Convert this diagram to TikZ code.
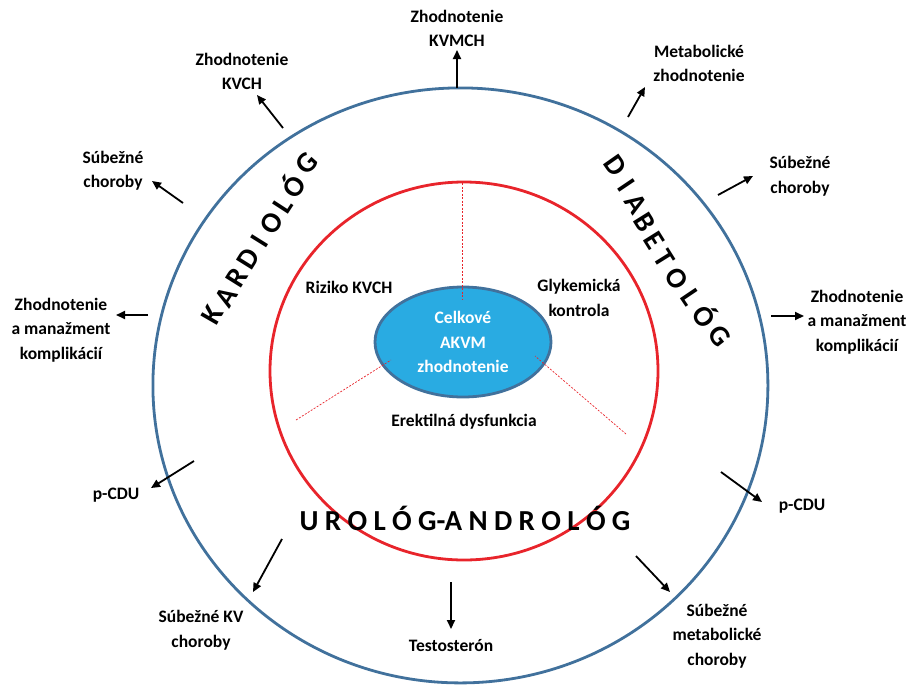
\documentclass[tikz,border=0pt]{standalone}
\usepackage{fontspec}
\setmainfont{Carlito}
\usetikzlibrary{arrows.meta,shapes.geometric,positioning}

\definecolor{ringblue}{HTML}{41719C}
\definecolor{ringred}{HTML}{E8242B}
\definecolor{akvmfill}{HTML}{29ABE2}

\newcommand{\lsp}{\hspace{0.22em}}

\tikzset{
  lbl/.style={font=\fontsize{17.5}{24.5}\selectfont\bfseries, align=center, inner sep=0pt},
  arr/.style={line width=1.8pt, -{Triangle[length=9pt,width=8pt]}},
  spoke/.style={draw=ringred, line width=0.7pt, dash pattern=on 2pt off 1.5pt},
  bigletter/.style={font=\fontsize{29}{29}\selectfont\bfseries, inner sep=0pt},
}

\begin{document}
\begin{tikzpicture}[x=1pt,y=-1pt]
    \useasboundingbox (0,0) rectangle (920,686);
    % Rings
    \node[ellipse, draw=ringblue, line width=2.8pt, minimum width=615pt, minimum height=595pt] (outer) at (460.4,385.4) {};
    \node[ellipse, draw=ringred, line width=2.8pt, minimum width=388pt, minimum height=378pt] (inner) at (464,371) {};
    % Center
    \node[ellipse, draw=ringblue, fill=akvmfill, line width=2.8pt, minimum width=176pt, minimum height=110pt, inner sep=0pt, lbl, text=white] (akvm) at (463,342) {Celkové\\AKVM\\zhodnotenie};
    % Dashed spokes
    \coordinate (sTop) at (462,183);
    \coordinate (sTopEnd) at (462,300);
    \coordinate (sLeft) at (296,420);
    \coordinate (sLeftEnd) at (391,360);
    \coordinate (sRight) at (626,434);
    \coordinate (sRightEnd) at (535,356);
    \draw[spoke] (sTop) -- (sTopEnd);
    \draw[spoke] (sLeft) -- (sLeftEnd);
    \draw[spoke] (sRight) -- (sRightEnd);
    % Inner labels
    \node[lbl] (riziko) at (349,287) {Riziko KVCH};
    \node[lbl] (glyk) at (579,298) {Glykemická\\kontrola};
    \node[lbl] (ed) at (464,422) {Erektilná dysfunkcia};
    % Arc titles
    \foreach \ch/\x/\y/\r [count=\i] in {K/212/315/60, A/226/297/58, R/237/278/58, D/248/259/58, I/260/241/58, O/272/223/58, L/283/205/57, Ó/292/186/55, G/307/163/48}
        \node[bigletter, rotate=\r] (kard\i) at (\x,\y) {\ch};
    \foreach \ch/\x/\y/\r [count=\i] in {D/615/166/-55, I/626/185/-56, A/636/204/-57, B/645/222/-58, E/654/241/-58, T/664/259/-58, O/677/279/-57, L/691/297/-56, Ó/706/315/-54, G/720/336/-52}
        \node[bigletter, rotate=\r] (diab\i) at (\x,\y) {\ch};
    \node[bigletter] (uro) at (465,518) {U\lsp R\lsp O\lsp L\lsp Ó\lsp G-A\lsp N\lsp D\lsp R\lsp O\lsp L\lsp Ó\lsp G};
    % Outer labels
    \node[lbl] (kvmch) at (457,28.5) {Zhodnotenie\\KVMCH};
    \node[lbl] (kvch) at (242,71.5) {Zhodnotenie\\KVCH};
    \node[lbl] (subL) at (113,170.5) {Súbežné\\choroby};
    \node[lbl] (kompL) at (61,330) {Zhodnotenie\\a manažment\\komplikácií};
    \node[lbl] (metab) at (699,63.5) {Metabolické\\zhodnotenie};
    \node[lbl] (subR) at (800,176) {Súbežné\\choroby};
    \node[lbl] (kompR) at (857,322) {Zhodnotenie\\a manažment\\komplikácií};
    \node[lbl] (cduL) at (116,495) {p-CDU};
    \node[lbl] (cduR) at (802,506) {p-CDU};
    \node[lbl] (subKV) at (201,630) {Súbežné KV\\choroby};
    \node[lbl] (testo) at (451,646) {Testosterón};
    \node[lbl] (subMet) at (717,636) {Súbežné\\metabolické\\choroby};
    % Arrows
    \foreach \n/\tx/\ty/\hx/\hy in {1/457/88/457/50, 2/283/128/257/95, 3/183/203/152/181, 4/148/315/116/315, 5/628/117/645/87, 6/718/195/753/176, 7/771/316/804/316, 8/194/461/151/488, 9/721/472/762/502, 10/282/539/253/592, 11/451/582/451/629, 12/636/556/670/592} {
        \coordinate (t\n) at (\tx,\ty);
        \coordinate (h\n) at (\hx,\hy);
        \draw[arr] (t\n) -- (h\n);
    }
\end{tikzpicture}
\end{document}
